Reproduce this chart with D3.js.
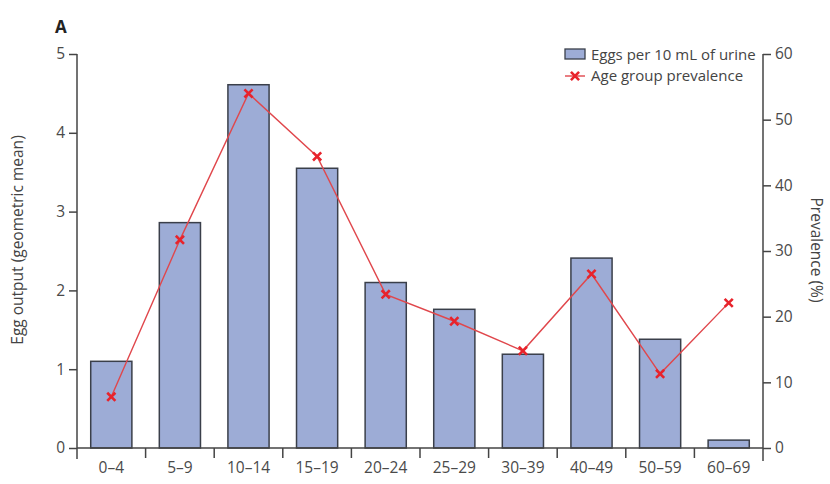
<!DOCTYPE html>
<html>
<head>
<meta charset="utf-8">
<script src="https://cdn.jsdelivr.net/npm/d3@7"></script>
<style>
  body { margin: 0; background: #fff; }
  text { font-family: "Open Sans", Lato, sans-serif; fill: #444; }
  .axis path, .axis line { stroke: #444; stroke-width: 1.5; }
  .axis text { font-size: 15.5px; fill: #4a4a4a; }
</style>
</head>
<body>
<div class="canvas"></div>
<script>
// DATA
const ageGroups = ["0–4", "5–9", "10–14", "15–19", "20–24", "25–29", "30–39", "40–49", "50–59", "60–69"];
const eggOutput = [1.1, 2.86, 4.61, 3.55, 2.1, 1.76, 1.19, 2.41, 1.38, 0.1];
const prevalence = [7.8, 31.7, 54.0, 44.4, 23.4, 19.3, 14.8, 26.5, 11.3, 22.1];
const leftTicks = [0, 1, 2, 3, 4, 5];
const rightTicks = [0, 10, 20, 30, 40, 50, 60];

// Dimensions
const margins = {top: 54, right: 67, bottom: 36, left: 77};
const width = 830 - margins.left - margins.right;
const height = 484 - margins.top - margins.bottom;

const svg = d3.select(".canvas")
  .append("svg")
  .attr("width", 830)
  .attr("height", 484);

const canvas = svg.append("g")
  .attr("transform", `translate(${margins.left},${margins.top})`);

// SCALES
const xScale = d3.scaleBand()
  .domain(ageGroups)
  .range([0, width])
  .paddingInner(0.4)
  .paddingOuter(0.2);

const yLeft = d3.scaleLinear().domain([0, 5]).range([height, 0]);
const yRight = d3.scaleLinear().domain([0, 60]).range([height, 0]);

// BARS
canvas.selectAll("rect.bar")
  .data(eggOutput)
  .enter()
  .append("rect")
  .attr("class", "bar")
  .attr("x", (d, i) => xScale(ageGroups[i]))
  .attr("y", d => yLeft(d))
  .attr("width", xScale.bandwidth())
  .attr("height", d => height - yLeft(d))
  .attr("fill", "#9dacd6")
  .attr("stroke", "#3a3f4a")
  .attr("stroke-width", 1.5);

// AXES
const leftAxis = canvas.append("g")
  .attr("class", "axis")
  .call(d3.axisLeft(yLeft).tickValues(leftTicks).tickFormat(d3.format("d"))
    .tickSize(8).tickPadding(4).tickSizeOuter(0));
leftAxis.select(".domain").attr("d", `M0,0V${height + 11}`);

const rightAxis = canvas.append("g")
  .attr("class", "axis")
  .attr("transform", `translate(${width},0)`)
  .call(d3.axisRight(yRight).tickValues(rightTicks).tickSize(8).tickPadding(4).tickSizeOuter(0));
rightAxis.select(".domain").attr("d", `M0,0V${height + 13}`);

// x axis: labels at centres, ticks at group boundaries
const xAxis = canvas.append("g")
  .attr("class", "axis")
  .attr("transform", `translate(0,${height})`)
  .call(d3.axisBottom(xScale).tickSize(0).tickPadding(14));
xAxis.select(".domain").attr("d", `M0,0H${width}`);

const step = xScale.step();
const bounds = ageGroups.map(g => xScale(g) - step * 0.2).concat([width]);
xAxis.selectAll("line.bound")
  .data(bounds.slice(1, -1))
  .enter()
  .append("line")
  .attr("class", "bound")
  .attr("x1", d => d).attr("x2", d => d)
  .attr("y1", 0).attr("y2", 10);

// PREVALENCE LINE
const line = d3.line()
  .x((d, i) => xScale(ageGroups[i]) + xScale.bandwidth() / 2)
  .y(d => yRight(d));

canvas.append("path")
  .datum(prevalence)
  .attr("d", line)
  .attr("fill", "none")
  .attr("stroke", "#e0474c")
  .attr("stroke-width", 1.4);

const marker = d3.symbol().type(d3.symbolX).size(45);
canvas.selectAll("path.mark")
  .data(prevalence)
  .enter()
  .append("path")
  .attr("class", "mark")
  .attr("d", marker)
  .attr("transform", (d, i) => `translate(${xScale(ageGroups[i]) + xScale.bandwidth() / 2},${yRight(d)})`)
  .attr("fill", "none")
  .attr("stroke", "#e8232b")
  .attr("stroke-width", 2.6);

// AXIS TITLES
svg.append("text")
  .attr("transform", "translate(23,240) rotate(-90)")
  .attr("text-anchor", "middle")
  .style("font-size", "15.5px")
  .text("Egg output (geometric mean)");

svg.append("text")
  .attr("transform", "translate(811,250) rotate(90)")
  .attr("text-anchor", "middle")
  .style("font-size", "15.5px")
  .text("Prevalence (%)");

svg.append("text")
  .attr("x", 55).attr("y", 33)
  .style("font-size", "17px")
  .style("font-weight", "bold")
  .style("fill", "#222")
  .text("A");

// LEGEND
const legend = svg.append("g").attr("transform", "translate(565,49)");
legend.append("rect")
  .attr("width", 20).attr("height", 10)
  .attr("fill", "#9dacd6").attr("stroke", "#3a3f4a").attr("stroke-width", 1.3);
legend.append("text")
  .attr("x", 26).attr("y", 11)
  .style("font-size", "15px")
  .text("Eggs per 10 mL of urine");
legend.append("line")
  .attr("x1", 0).attr("x2", 20).attr("y1", 27).attr("y2", 27)
  .attr("stroke", "#e0474c").attr("stroke-width", 1.4);
legend.append("path")
  .attr("d", marker)
  .attr("transform", "translate(10,27)")
  .attr("fill", "none").attr("stroke", "#e8232b").attr("stroke-width", 2.6);
legend.append("text")
  .attr("x", 26).attr("y", 32)
  .style("font-size", "15px")
  .text("Age group prevalence");
</script>
</body>
</html>
